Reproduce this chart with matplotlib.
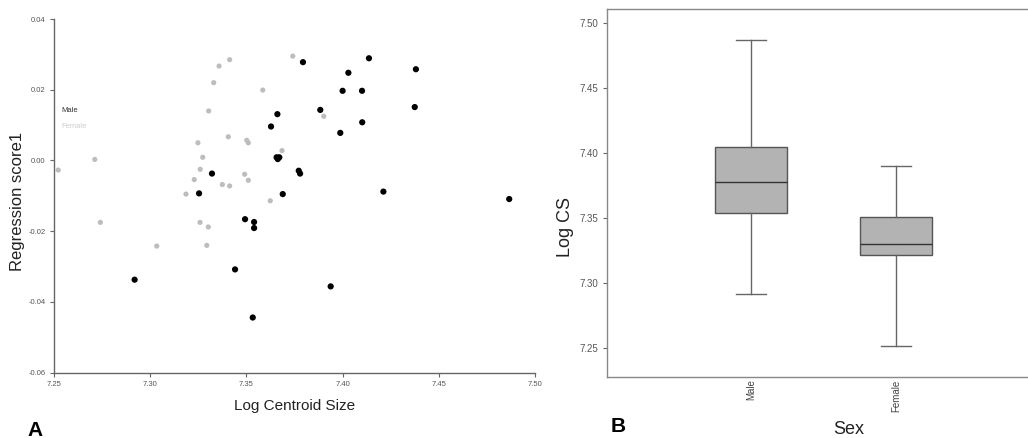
import matplotlib
matplotlib.use("Agg")
import matplotlib.pyplot as plt
from matplotlib.ticker import FixedLocator, FormatStrFormatter

# ---- Panel A data: Log Centroid Size vs Regression score1 ----
female_x = [7.2522, 7.2712, 7.3186, 7.3229, 7.3248, 7.3260, 7.3273, 7.3304, 7.3330,
            7.3358, 7.3413, 7.3406, 7.3375, 7.3413, 7.3491, 7.3510, 7.3502, 7.3510,
            7.3585, 7.3741, 7.3902, 7.3685, 7.3624, 7.2741, 7.3034, 7.3259, 7.3302,
            7.3294]
female_y = [-0.0027, 0.0003, -0.0095, -0.0054, 0.0050, -0.0025, 0.0009, 0.0140, 0.0220,
            0.0267, 0.0285, 0.0067, -0.0068, -0.0072, -0.0039, -0.0056, 0.0057, 0.0050,
            0.0199, 0.0295, 0.0125, 0.0028, -0.0114, -0.0175, -0.0242, -0.0175, -0.0188,
            -0.0240]
male_x = [7.3321, 7.3254, 7.3493, 7.3794, 7.4137, 7.4381, 7.4030, 7.4000, 7.4101,
          7.4375, 7.3884, 7.3661, 7.3628, 7.4102, 7.3988, 7.3657, 7.3671, 7.3663,
          7.3772, 7.3779, 7.3689, 7.4212, 7.4866, 7.3540, 7.3540, 7.2919, 7.3441,
          7.3533, 7.3938]
male_y = [-0.0037, -0.0093, -0.0166, 0.0278, 0.0289, 0.0258, 0.0248, 0.0197, 0.0197,
          0.0151, 0.0143, 0.0131, 0.0096, 0.0108, 0.0078, 0.0009, 0.0009, 0.0004,
          -0.0029, -0.0037, -0.0095, -0.0088, -0.0109, -0.0174, -0.0191, -0.0337, -0.0308,
          -0.0444, -0.0356]
a_xticks = [7.25, 7.30, 7.35, 7.40, 7.45, 7.50]
a_yticks = [-0.06, -0.04, -0.02, 0.00, 0.02, 0.04]

# ---- Panel B data: box plot of Log CS by Sex ----
box_groups = ["Male", "Female"]
box_whislo = [7.292, 7.252]
box_q1 = [7.354, 7.322]
box_med = [7.378, 7.330]
box_q3 = [7.405, 7.351]
box_whishi = [7.487, 7.390]
b_yticks = [7.25, 7.30, 7.35, 7.40, 7.45, 7.50]

NARROW = ["Liberation Sans Narrow", "Liberation Sans", "DejaVu Sans"]
SANS = ["Liberation Sans", "DejaVu Sans"]
plt.rcParams["font.family"] = SANS

fig = plt.figure(figsize=(10.28, 4.38), dpi=100)
fig.patch.set_facecolor("white")

# ---------- Panel A ----------
ax1 = fig.add_axes([54 / 1028, 1 - 372.7 / 438, 481 / 1028, 353.7 / 438])
ax1.scatter(female_x, female_y, s=14, color="#bdbdbd", edgecolors="none", zorder=2)
ax1.scatter(male_x, male_y, s=20, color="black", edgecolors="none", zorder=3)
ax1.set_xlim(7.25, 7.50)
ax1.set_ylim(-0.06, 0.04)
for side in ("top", "right"):
    ax1.spines[side].set_visible(False)
for side in ("left", "bottom"):
    ax1.spines[side].set_color("#666666")
    ax1.spines[side].set_linewidth(1.0)
ax1.xaxis.set_major_locator(FixedLocator(a_xticks))
ax1.yaxis.set_major_locator(FixedLocator(a_yticks))
ax1.xaxis.set_major_formatter(FormatStrFormatter("%.2f"))
ax1.yaxis.set_major_formatter(FormatStrFormatter("%.2f"))
ax1.tick_params(axis="both", length=3, width=0.8, color="#666666",
                labelsize=5.5, labelcolor="#555555", pad=3)
for lab in ax1.get_xticklabels() + ax1.get_yticklabels():
    lab.set_family(NARROW)
ax1.set_xlabel("Log Centroid Size", fontsize=11, color="#222222")
ax1.xaxis.set_label_coords(0.5, (372.7 - 406) / 353.7)
ax1.xaxis.label.set_va("center")
ax1.set_ylabel("Regression score1", fontsize=12, color="#222222")
ax1.yaxis.set_label_coords((18 - 54) / 481, (372.7 - 201) / 353.7)
ax1.yaxis.label.set_va("center")
ax1.text((61 - 54) / 481, (372.7 - 111) / 353.7, "Male", transform=ax1.transAxes,
         fontsize=5.5, color="#333333", family=NARROW, va="center", ha="left")
ax1.text((61 - 54) / 481, (372.7 - 126.5) / 353.7, "Female", transform=ax1.transAxes,
         fontsize=5.5, color="#cfcfcf", family=NARROW, va="center", ha="left")

# ---------- Panel B ----------
ax2 = fig.add_axes([607 / 1028, 1 - 376.5 / 438, 484 / 1028, 367.2 / 438])
stats = []
for i, g in enumerate(box_groups):
    stats.append({"label": g, "whislo": box_whislo[i], "q1": box_q1[i],
                  "med": box_med[i], "q3": box_q3[i], "whishi": box_whishi[i],
                  "fliers": []})
ax2.bxp(stats, positions=[1, 2], widths=0.497, patch_artist=True, showfliers=False,
        boxprops=dict(facecolor="#b3b3b3", edgecolor="#555555", linewidth=1.0),
        medianprops=dict(color="#333333", linewidth=1.0),
        whiskerprops=dict(color="#666666", linewidth=1.0),
        capprops=dict(color="#666666", linewidth=1.0),
        capwidths=0.207)
ax2.set_xlim(1 - 144 / 145, 2 + 195 / 145)
ax2.set_ylim(7.2282, 7.5108)
for side in ("top", "right", "left", "bottom"):
    ax2.spines[side].set_color("#888888")
    ax2.spines[side].set_linewidth(1.0)
ax2.yaxis.set_major_locator(FixedLocator(b_yticks))
ax2.yaxis.set_major_formatter(FormatStrFormatter("%.2f"))
ax2.tick_params(axis="y", length=3, width=0.8, color="#666666",
                labelsize=7, labelcolor="#555555", pad=3)
ax2.tick_params(axis="x", length=0, labelsize=7, labelcolor="#444444", pad=2,
                labelrotation=90)
for lab in ax2.get_yticklabels():
    lab.set_family(NARROW)
ax2.set_xticks([1, 2])
ax2.set_xticklabels(box_groups)
ax2.set_xlabel("Sex", fontsize=13, color="#222222")
ax2.xaxis.set_label_coords(0.5, (376.5 - 429) / 367.2)
ax2.xaxis.label.set_va("center")
ax2.set_ylabel("Log CS", fontsize=13, color="#222222")
ax2.yaxis.set_label_coords((566 - 607) / 484, (376.5 - 226.7) / 367.2)
ax2.yaxis.label.set_va("center")

# panel letters
fig.text(35 / 1028, 1 - 430 / 438, "A", fontsize=15, fontweight="bold",
         ha="center", va="center", color="black")
fig.text(618 / 1028, 1 - 427 / 438, "B", fontsize=15, fontweight="bold",
         ha="center", va="center", color="black")

fig.savefig("out.png", dpi=100, facecolor="white")
